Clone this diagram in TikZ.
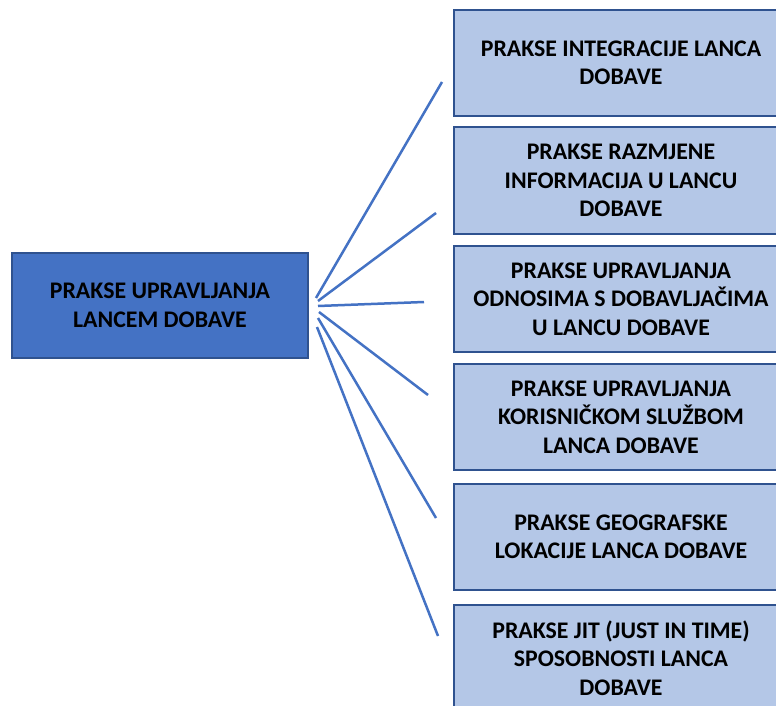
\documentclass[tikz,border=0pt]{standalone}
\usepackage{fontspec}
\setmainfont{Carlito}
\definecolor{mainfill}{HTML}{4472C4}
\definecolor{boxborder}{HTML}{2F528F}
\definecolor{subfill}{HTML}{B4C7E7}
\definecolor{linkcol}{HTML}{4472C4}
\tikzset{
  mainbox/.style={draw=boxborder, line width=2pt, fill=mainfill, minimum width=296pt, minimum height=105pt, align=center, font=\fontsize{23.8}{28.5}\selectfont\bfseries, inner sep=0pt},
  subbox/.style={draw=boxborder, line width=2pt, fill=subfill, minimum width=334pt, minimum height=106pt, align=center, font=\fontsize{23.8}{28.5}\selectfont\bfseries, inner sep=0pt},
  link/.style={draw=linkcol, line width=2.5pt}
}
\begin{document}
\begin{tikzpicture}[x=1pt,y=-1pt]
\clip (0,0) rectangle (776,706);
\fill[white] (0,0) rectangle (776,706);
\node[mainbox] (main) at (160,305.5) {PRAKSE UPRAVLJANJA\\LANCEM DOBAVE};
\node[subbox] (b1) at (621,63) {PRAKSE INTEGRACIJE LANCA\\DOBAVE};
\node[subbox] (b2) at (621,180.5) {PRAKSE RAZMJENE\\INFORMACIJA U LANCU\\DOBAVE};
\node[subbox] (b3) at (621,299) {PRAKSE UPRAVLJANJA\\ODNOSIMA S DOBAVLJAČIMA\\U LANCU DOBAVE};
\node[subbox] (b4) at (621,417) {PRAKSE UPRAVLJANJA\\KORISNIČKOM SLUŽBOM\\LANCA DOBAVE};
\node[subbox] (b5) at (621,537) {PRAKSE GEOGRAFSKE\\LOKACIJE LANCA DOBAVE};
\node[subbox] (b6) at (621,658) {PRAKSE JIT (JUST IN TIME)\\SPOSOBNOSTI LANCA\\DOBAVE};
\coordinate (s1) at (316,298);
\coordinate (s2) at (318,301);
\coordinate (s3) at (318,306);
\coordinate (s4) at (319,312);
\coordinate (s5) at (318,318);
\coordinate (s6) at (317,327);
\coordinate (e1) at (442,82);
\coordinate (e2) at (436,213);
\coordinate (e3) at (424,302);
\coordinate (e4) at (428,395);
\coordinate (e5) at (436,518);
\coordinate (e6) at (438,636);
\draw[link] (s1) -- (e1);
\draw[link] (s2) -- (e2);
\draw[link] (s3) -- (e3);
\draw[link] (s4) -- (e4);
\draw[link] (s5) -- (e5);
\draw[link] (s6) -- (e6);
\end{tikzpicture}
\end{document}
